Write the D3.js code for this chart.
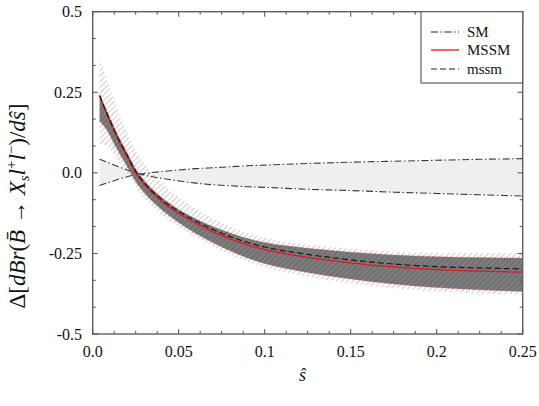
<!DOCTYPE html>
<html><head><meta charset="utf-8">
<script src="https://cdn.jsdelivr.net/npm/d3@7"></script>
<style>body{margin:0;background:#fff}svg{display:block}</style>
</head><body><svg id="c" width="539" height="406"></svg>
<script>
const sVals = [0.004,0.008,0.012,0.016,0.02,0.025,0.03,0.04,0.05,0.06,0.07,0.08,0.09,0.1,0.125,0.15,0.175,0.2,0.225,0.25];
const mssmRed = [0.24,0.185,0.135,0.09,0.05,0.0,-0.036,-0.088,-0.126,-0.157,-0.183,-0.205,-0.224,-0.238,-0.262,-0.279,-0.292,-0.300,-0.305,-0.308];
const mssmDash = [0.24,0.188,0.139,0.095,0.055,0.005,-0.031,-0.082,-0.120,-0.150,-0.176,-0.198,-0.216,-0.230,-0.253,-0.270,-0.283,-0.291,-0.295,-0.298];
const darkHi = [0.24,0.195,0.147,0.102,0.062,0.012,-0.024,-0.076,-0.114,-0.143,-0.167,-0.187,-0.204,-0.216,-0.234,-0.246,-0.255,-0.260,-0.263,-0.264];
const darkLo = [0.16,0.135,0.095,0.056,0.02,-0.027,-0.062,-0.114,-0.154,-0.188,-0.217,-0.242,-0.264,-0.281,-0.309,-0.329,-0.345,-0.356,-0.363,-0.368];
const hatchHi = [0.36,0.29,0.235,0.175,0.125,0.068,0.03,-0.03,-0.075,-0.112,-0.142,-0.167,-0.187,-0.201,-0.222,-0.235,-0.244,-0.248,-0.249,-0.249];
const hatchLo = [0.09,0.085,0.06,0.03,0.0,-0.045,-0.079,-0.129,-0.167,-0.2,-0.229,-0.254,-0.276,-0.293,-0.322,-0.343,-0.358,-0.368,-0.374,-0.378];
const smA = [0.042,0.034,0.025,0.017,0.009,0.0,-0.007,-0.017,-0.025,-0.032,-0.037,-0.040,-0.043,-0.045,-0.051,-0.055,-0.060,-0.064,-0.068,-0.072];
const smB = [-0.039,-0.032,-0.025,-0.018,-0.012,-0.006,-0.002,0.004,0.009,0.013,0.016,0.019,0.022,0.024,0.029,0.033,0.036,0.039,0.042,0.044];
const xTicks = [0,0.05,0.1,0.15,0.2,0.25];
const xTickLabels = ["0.0","0.05","0.1","0.15","0.2","0.25"];
const yTicks = [0.5,0.25,0,-0.25,-0.5];
const yTickLabels = ["0.5","0.25","0.0","-0.25","-0.5"];
const legendLabels = ["SM","MSSM","mssm"];

const svg = d3.select("#c");
const L=92.7,R=522.7,T=11.7,B=334;
const x = d3.scaleLinear().domain([0,0.25]).range([L,R]);
const y = d3.scaleLinear().domain([-0.5,0.5]).range([B,T]);
const FONT = "Liberation Serif, Tinos, Times New Roman, DejaVu Serif, serif";

const defs = svg.append("defs");
const p1 = defs.append("pattern").attr("id","hatchL").attr("patternUnits","userSpaceOnUse")
  .attr("width",4).attr("height",4).attr("patternTransform","rotate(45)");
p1.append("line").attr("x1",0).attr("y1",0).attr("x2",0).attr("y2",4).attr("stroke","#a2a2a2").attr("stroke-width",1.1);
const p2 = defs.append("pattern").attr("id","hatchD").attr("patternUnits","userSpaceOnUse")
  .attr("width",4).attr("height",4).attr("patternTransform","rotate(45)");
p2.append("rect").attr("width",4).attr("height",4).attr("fill","#7c7c7c");
p2.append("line").attr("x1",0).attr("y1",0).attr("x2",0).attr("y2",4).attr("stroke","#5c5c5c").attr("stroke-width",1.2);
defs.append("clipPath").attr("id","clip").append("rect").attr("x",L).attr("y",T).attr("width",R-L).attr("height",B-T);

const idx = d3.range(sVals.length);
const curve = d3.curveMonotoneX;
const areaOf = (lo,hi)=>d3.area().x(i=>x(sVals[i])).y0(i=>y(lo[i])).y1(i=>y(hi[i])).curve(curve);
const lineOf = (arr)=>d3.line().x(i=>x(sVals[i])).y(i=>y(arr[i])).curve(curve);

const g = svg.append("g").attr("clip-path","url(#clip)");
g.append("path").attr("d",areaOf(smA,smB)(idx)).attr("fill","#efefef");
g.append("path").attr("d",areaOf(hatchLo,hatchHi)(idx)).attr("fill","url(#hatchL)");
const smDash = "7,2.5,1.5,2.5";
g.append("path").attr("d",lineOf(smA)(idx)).attr("fill","none").attr("stroke","#3a3a3a").attr("stroke-width",1.1).attr("stroke-dasharray",smDash);
g.append("path").attr("d",lineOf(smB)(idx)).attr("fill","none").attr("stroke","#3a3a3a").attr("stroke-width",1.1).attr("stroke-dasharray",smDash);
g.append("path").attr("d",areaOf(darkLo,darkHi)(idx)).attr("fill","url(#hatchD)");
g.append("path").attr("d",lineOf(darkHi)(idx)).attr("fill","none").attr("stroke","#f03030").attr("stroke-width",0.8).attr("stroke-dasharray","1,2");
g.append("path").attr("d",lineOf(darkLo)(idx)).attr("fill","none").attr("stroke","#f03030").attr("stroke-width",0.8).attr("stroke-dasharray","1,2");
g.append("path").attr("d",lineOf(mssmRed)(idx)).attr("fill","none").attr("stroke","#e8141c").attr("stroke-width",1.3);
g.append("path").attr("d",lineOf(mssmDash)(idx)).attr("fill","none").attr("stroke","#1a1a1a").attr("stroke-width",1.2).attr("stroke-dasharray","6,3");

// frame
svg.append("rect").attr("x",L).attr("y",T).attr("width",R-L).attr("height",B-T).attr("fill","none").attr("stroke","#606060").attr("stroke-width",1.4);

// ticks
const tk = svg.append("g").attr("stroke","#505050").attr("stroke-width",1);
const xMinor = d3.range(0,0.2501,0.0125);
xMinor.forEach(v=>{
  const major = Math.abs(v/0.05-Math.round(v/0.05))<1e-6;
  const len = major?5:3;
  tk.append("line").attr("x1",x(v)).attr("x2",x(v)).attr("y1",B).attr("y2",B-len);
  tk.append("line").attr("x1",x(v)).attr("x2",x(v)).attr("y1",T).attr("y2",T+len);
});
const yMinor = d3.range(0,13).map(i=>-0.5+i*0.25/3);
yMinor.forEach((v,i)=>{
  const major = i%3===0;
  const len = major?5:3;
  tk.append("line").attr("y1",y(v)).attr("y2",y(v)).attr("x1",L).attr("x2",L+len);
  tk.append("line").attr("y1",y(v)).attr("y2",y(v)).attr("x1",R).attr("x2",R-len);
});

// tick labels
svg.append("g").selectAll("text").data(xTicks).join("text")
  .attr("x",d=>x(d)).attr("y",357).attr("text-anchor","middle")
  .attr("font-family",FONT).attr("font-size",16).attr("fill","#111")
  .text((d,i)=>xTickLabels[i]);
svg.append("g").selectAll("text").data(yTicks).join("text")
  .attr("x",82).attr("y",d=>y(d)+5.5).attr("text-anchor","end")
  .attr("font-family",FONT).attr("font-size",16).attr("fill","#111")
  .text((d,i)=>yTickLabels[i]);

// axis titles
svg.append("text").attr("x",302.5).attr("y",381).attr("text-anchor","middle")
  .attr("font-family",FONT).attr("font-size",18).attr("font-style","italic").attr("fill","#111").text("ŝ");

const yt = svg.append("text").attr("transform","translate(25,206) rotate(-90)").attr("text-anchor","middle")
  .attr("font-family",FONT).attr("font-size",23).attr("fill","#111");
yt.append("tspan").text("Δ[");
yt.append("tspan").attr("font-style","italic").text("dBr");
yt.append("tspan").text("(");
yt.append("tspan").attr("font-style","italic").text("B̄");
yt.append("tspan").text(" → ");
yt.append("tspan").attr("font-style","italic").text("X");
yt.append("tspan").attr("font-style","italic").attr("font-size",15).attr("dy",4).text("s");
yt.append("tspan").attr("font-style","italic").attr("dy",-4).text("l");
yt.append("tspan").attr("font-size",15).attr("dy",-9).text("+");
yt.append("tspan").attr("font-style","italic").attr("dy",9).text("l");
yt.append("tspan").attr("font-size",15).attr("dy",-9).text("−");
yt.append("tspan").attr("dy",9).text(")/");
yt.append("tspan").attr("font-style","italic").text("dŝ");
yt.append("tspan").text("]");

// legend
const lg = svg.append("g");
lg.append("rect").attr("x",421).attr("y",T).attr("width",R-421).attr("height",83-T).attr("fill","#fff").attr("stroke","#606060").attr("stroke-width",1.2);
const lgY = [32,50,69];
const lgStyles = [{c:"#222",d:smDash,w:1.1},{c:"#e8141c",d:null,w:1.3},{c:"#222",d:"6,3",w:1.2}];
legendLabels.forEach((t,i)=>{
  lg.append("line").attr("x1",431).attr("x2",459).attr("y1",lgY[i]).attr("y2",lgY[i])
    .attr("stroke",lgStyles[i].c).attr("stroke-width",lgStyles[i].w).attr("stroke-dasharray",lgStyles[i].d);
  lg.append("text").attr("x",467).attr("y",lgY[i]+5).attr("font-family",FONT).attr("font-size",15).attr("fill","#111").text(t);
});
</script></body></html>
